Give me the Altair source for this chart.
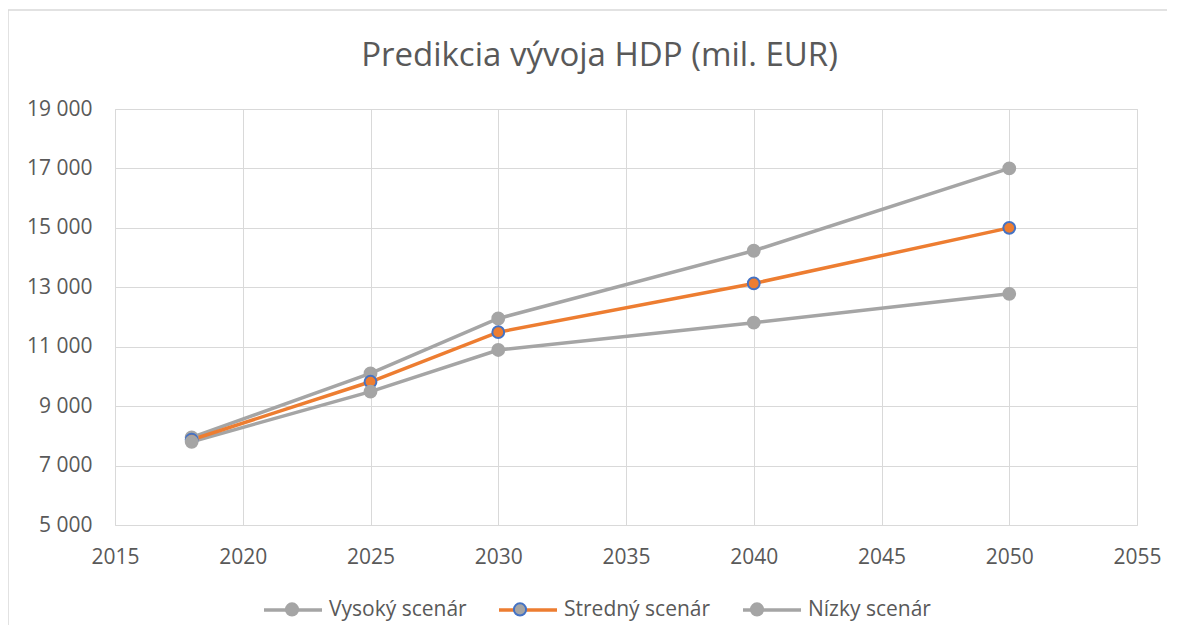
import altair as alt
import pandas as pd

years = [2018, 2025, 2030, 2040, 2050]
series_names = ["Vysoký scenár", "Stredný scenár", "Nízky scenár"]
high = [7950, 10100, 11950, 14230, 17000]
mid = [7870, 9820, 11490, 13130, 15000]
low = [7800, 9490, 10890, 11810, 12780]
x_ticks = [2015, 2020, 2025, 2030, 2035, 2040, 2045, 2050, 2055]
y_ticks = [5000, 7000, 9000, 11000, 13000, 15000, 17000, 19000]
title_text = ["Predikcia vývoja HDP (mil. EUR)"]

line_colors = ["#A5A5A5", "#ED7D31", "#A5A5A5"]
point_strokes = ["#A5A5A5", "#4472C4", "#A5A5A5"]

rows = []
for name, vals in zip(series_names, [high, mid, low]):
    for yr, v in zip(years, vals):
        rows.append({"year": yr, "value": v, "series": name, "series2": name})
df = pd.DataFrame(rows)

FONT = "Open Sans"
TXT = "#595959"
GRID = "#D9D9D9"

x_enc = alt.X(
    "year:Q",
    scale=alt.Scale(domain=[2015, 2055], nice=False, zero=False),
    axis=alt.Axis(values=x_ticks, format="d", title=None, grid=True, ticks=False,
                  tickSize=0, domain=False, labelPadding=21, labelFontSize=21,
                  labelColor=TXT, labelFont=FONT, gridColor=GRID, labelFlush=False),
)
y_enc = alt.Y(
    "value:Q",
    scale=alt.Scale(domain=[5000, 19000], nice=False, zero=False),
    axis=alt.Axis(values=y_ticks, title=None, grid=True, ticks=False, tickSize=0,
                  domain=False, labelPadding=23, labelFontSize=21, labelColor=TXT,
                  labelFont=FONT, gridColor=GRID,
                  labelExpr="replace(format(datum.value, ','), ',', ' ')"),
)

legend_common = dict(orient="none", legendX=147, legendY=470, direction="horizontal",
                     title=None, symbolSize=3364, labelFontSize=21, labelFont=FONT,
                     columnPadding=25, labelOffset=5, padding=0)

color_enc = alt.Color(
    "series:N",
    scale=alt.Scale(domain=series_names, range=line_colors),
    legend=alt.Legend(symbolType="stroke", symbolStrokeWidth=3.5, labelColor=TXT,
                      zindex=0, **legend_common),
)
circle_path = "M-0.21,0A0.21,0.21,0,1,0,0.21,0A0.21,0.21,0,1,0,-0.21,0Z"
pt_legend = alt.Legend(
    symbolType=circle_path, symbolStrokeWidth=2, symbolFillColor="#A5A5A5",
    symbolOpacity=1, labelColor="transparent", zindex=1, **legend_common,
)
fill_enc = alt.Fill("series2:N", sort=series_names,
                    scale=alt.Scale(range=line_colors), legend=pt_legend)
stroke_enc = alt.Stroke("series2:N", sort=series_names,
                        scale=alt.Scale(range=point_strokes), legend=pt_legend)

base = alt.Chart(df)
gray_lines = base.transform_filter(
    alt.datum.series != series_names[1]
).mark_line(strokeWidth=3.5).encode(x=x_enc, y=y_enc, color=color_enc, detail="series:N")
mid_line = base.transform_filter(
    alt.datum.series == series_names[1]
).mark_line(strokeWidth=3.5).encode(x=x_enc, y=y_enc, color=color_enc)
points = base.mark_point(filled=True, size=140, strokeWidth=2, opacity=1).encode(
    x=x_enc, y=y_enc, fill=fill_enc, stroke=stroke_enc
)

frame = alt.Chart(pd.DataFrame({"a": [0]})).mark_rect(
    fillOpacity=0, stroke=GRID, strokeWidth=1.5
).encode(x=alt.value(-107), y=alt.value(-99), x2=alt.value(1200), y2=alt.value(700))

title = alt.Chart(pd.DataFrame({"t": title_text})).mark_text(
    font=FONT, fontSize=33, color=TXT, align="center", baseline="alphabetic"
).encode(text="t:N", x=alt.value(484.5), y=alt.value(-43))

chart = alt.layer(frame, gray_lines, mid_line, points, title).properties(
    width=1022,
    height=416,
    autosize=alt.AutoSizeParams(type="none"),
    padding={"left": 107, "top": 101, "right": 30, "bottom": 100},
).configure_view(strokeWidth=0).configure(background="white")

chart.save("out.html", embed_options={"renderer": "svg", "actions": False})
